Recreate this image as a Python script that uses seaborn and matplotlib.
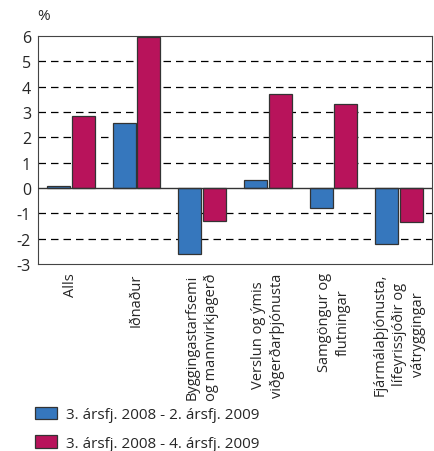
import matplotlib
matplotlib.use("Agg")
import matplotlib.pyplot as plt
import seaborn as sns
import pandas as pd
import numpy as np
from matplotlib.patches import Patch

categories = ["Alls", "Iðnaður", "Byggingastarfsemi\nog mannvirkjagerð",
              "Verslun og ýmis\nviðgerðarþjónusta", "Samgöngur og\nflutningar",
              "Fjármálaþjónusta,\nlífeyrissjóðir og\nvátryggingar"]
series = ["3. ársfj. 2008 - 2. ársfj. 2009", "3. ársfj. 2008 - 4. ársfj. 2009"]
s1 = [0.08, 2.55, -2.6, 0.3, -0.8, -2.2]
s2 = [2.85, 5.95, -1.3, 3.7, 3.3, -1.35]
colors = ["#3677bd", "#b8135b"]

df = pd.DataFrame({
    "cat": categories * 2,
    "series": [series[0]] * len(categories) + [series[1]] * len(categories),
    "val": s1 + s2,
})

sns.set_style("white")
plt.rcParams["font.family"] = ["Open Sans", "DejaVu Sans"]

fig = plt.figure(figsize=(4.34, 4.52), dpi=100)
ax = fig.add_axes([38 / 434, 1 - 265 / 452, 394 / 434, 228 / 452])

sns.barplot(data=df, x="cat", y="val", hue="series", palette=colors,
            saturation=1, width=0.76, gap=0.08, edgecolor="#333333", linewidth=0.9,
            legend=False, ax=ax, zorder=3)

ax.set_ylim(-3, 6)
ax.set_xlim(-0.5, len(categories) - 0.5)
ax.set_yticks(range(-3, 7))
ax.set_yticklabels([str(v) for v in range(-3, 7)], fontsize=11.5)
for v in [1, 2, 3, 4, 5, -1, -2]:
    ax.axhline(v, color="black", lw=0.9, ls=(0, (6, 4)), zorder=1)
ax.axhline(0, color="#333333", lw=1.0, zorder=4)

ax.set_xticks(range(len(categories)))
ax.set_xticklabels(categories, rotation=90, fontsize=10.5, va="top", ha="center")
for lbl in ax.get_xticklabels():
    lbl.set_linespacing(1.35)
ax.tick_params(axis="x", which="major", length=0, pad=6)
ax.set_xticks(np.arange(-0.5, len(categories)), minor=True)
ax.tick_params(axis="x", which="minor", length=5, width=0.8, color="#333333", direction="out")
ax.tick_params(axis="y", length=0, pad=5)
ax.set_xlabel("")
ax.set_ylabel("")
for sp in ax.spines.values():
    sp.set_color("#444444")
    sp.set_linewidth(0.8)

fig.text(37 / 434, 1 - 17 / 452, "%", fontsize=11, va="center", ha="left")

handles = [Patch(facecolor=c, edgecolor="#333333", linewidth=0.9) for c in colors]
fig.legend(handles, series, loc="upper left", bbox_to_anchor=(29 / 434, 1 - 402 / 452),
           frameon=False, fontsize=11, handlelength=1.45, handleheight=0.85,
           labelspacing=0.85, handletextpad=0.55, borderaxespad=0, borderpad=0.4)

fig.savefig("out.png", dpi=100)
